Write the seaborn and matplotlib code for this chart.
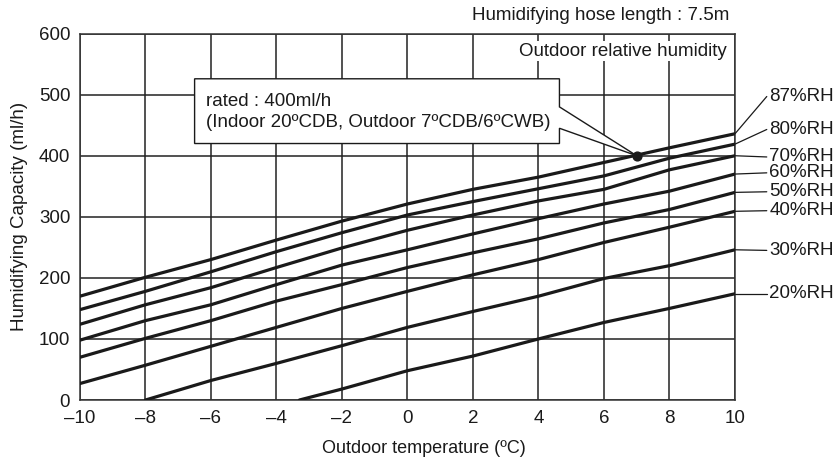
import numpy as np
import pandas as pd
import matplotlib
matplotlib.use("Agg")
import matplotlib.pyplot as plt
import seaborn as sns
from matplotlib.patches import Polygon

# ---- data ----
temps = [-10, -8, -6, -4, -2, 0, 2, 4, 6, 8, 10]
rh87 = [170, 201, 230, 262, 293, 321, 345, 365, 389, 413, 436]
rh80 = [148, 178, 210, 243, 274, 303, 325, 346, 367, 396, 419]
rh70 = [124, 156, 184, 217, 249, 278, 303, 326, 345, 377, 400]
rh60 = [98, 130, 156, 189, 221, 246, 272, 297, 321, 342, 370]
rh50 = [70, 101, 130, 162, 189, 217, 241, 264, 290, 312, 340]
rh40 = [27, 57, 88, 119, 150, 178, 205, 230, 258, 283, 309]
temps30 = [-8, -6, -4, -2, 0, 2, 4, 6, 8, 10]
rh30 = [0, 32, 60, 89, 119, 145, 170, 199, 220, 246]
temps20 = [-3.3, -2, 0, 2, 4, 6, 8, 10]
rh20 = [0, 18, 48, 72, 100, 127, 150, 174]

series_names = ["87%RH", "80%RH", "70%RH", "60%RH", "50%RH", "40%RH", "30%RH", "20%RH"]
series_x = [temps, temps, temps, temps, temps, temps, temps30, temps20]
series_y = [rh87, rh80, rh70, rh60, rh50, rh40, rh30, rh20]
label_y = [497, 443, 398, 372, 341, 310, 245, 174]

rated_x = [7]
rated_y = [400]

xticks = [-10, -8, -6, -4, -2, 0, 2, 4, 6, 8, 10]
yticks = [0, 100, 200, 300, 400, 500, 600]

rows = []
for name, xs, ys in zip(series_names, series_x, series_y):
    for xv, yv in zip(xs, ys):
        rows.append({"temp": xv, "cap": yv, "rh": name})
df = pd.DataFrame(rows)

# ---- style ----
sns.set_theme(style="white")
plt.rcParams["font.family"] = ["Liberation Sans", "DejaVu Sans"]
FS = 13.5
TXT = "#1a1a1a"

fig = plt.figure(figsize=(8.4, 4.66), dpi=100)
ax = fig.add_axes([0.0952, 0.1416, 0.7798, 0.7863])

sns.lineplot(data=df, x="temp", y="cap", hue="rh", estimator=None,
             palette=["#1a1a1a"] * len(series_names), legend=False,
             linewidth=2.3, ax=ax, zorder=4)

ax.set_xlim(-10, 10)
ax.set_ylim(0, 600)
ax.set_xticks(xticks)
ax.set_yticks(yticks)
ax.set_xticklabels([("\u2013" + str(abs(t))) if t < 0 else str(t) for t in xticks])
ax.grid(True, color="#222222", linewidth=1.1)
ax.set_axisbelow(True)
for s in ax.spines.values():
    s.set_color("#333333")
    s.set_linewidth(1.1)
ax.tick_params(axis="both", length=0, labelsize=FS, colors=TXT)
ax.tick_params(axis="x", pad=7)
ax.tick_params(axis="y", pad=7)
ax.set_xlabel("Outdoor temperature (ºC)", fontsize=13, color=TXT)
ax.xaxis.set_label_coords(0.525, -0.108)
ax.set_ylabel("Humidifying Capacity (ml/h)", fontsize=FS, color=TXT, labelpad=8)

# right-side labels with leaders
for name, ys, ly in zip(series_names, series_y, label_y):
    ax.plot([10, 10.97], [ys[-1], ly], color="#1a1a1a", linewidth=0.9,
            clip_on=False, zorder=4)
    ax.text(11.05, ly, name, fontsize=FS, va="center", ha="left", color=TXT)

# rated point and callout
ax.scatter(rated_x, rated_y, s=40, color="#1a1a1a", zorder=6)
poly = Polygon([(-6.5, 526), (4.64, 526), (4.64, 480), (rated_x[0], rated_y[0]),
                (4.64, 445), (4.64, 420), (-6.5, 420)], closed=True,
               facecolor="white", edgecolor="#1a1a1a", linewidth=1.0, zorder=5)
ax.add_patch(poly)
ax.text(-6.15, 489, "rated : 400ml/h", fontsize=FS, va="center", ha="left",
        color=TXT, zorder=6)
ax.text(-6.15, 454, "(Indoor 20ºCDB, Outdoor 7ºCDB/6ºCWB)", fontsize=FS,
        va="center", ha="left", color=TXT, zorder=6)

ax.text(9.75, 571, "Outdoor relative humidity", fontsize=FS, ha="right", va="center",
        color=TXT, zorder=5,
        bbox=dict(facecolor="white", edgecolor="none", pad=1.0))
fig.text(729 / 840, 1 - 15 / 466, "Humidifying hose length : 7.5m", fontsize=FS,
         ha="right", va="center", color=TXT)

fig.savefig("out.png", dpi=100, facecolor="white")
